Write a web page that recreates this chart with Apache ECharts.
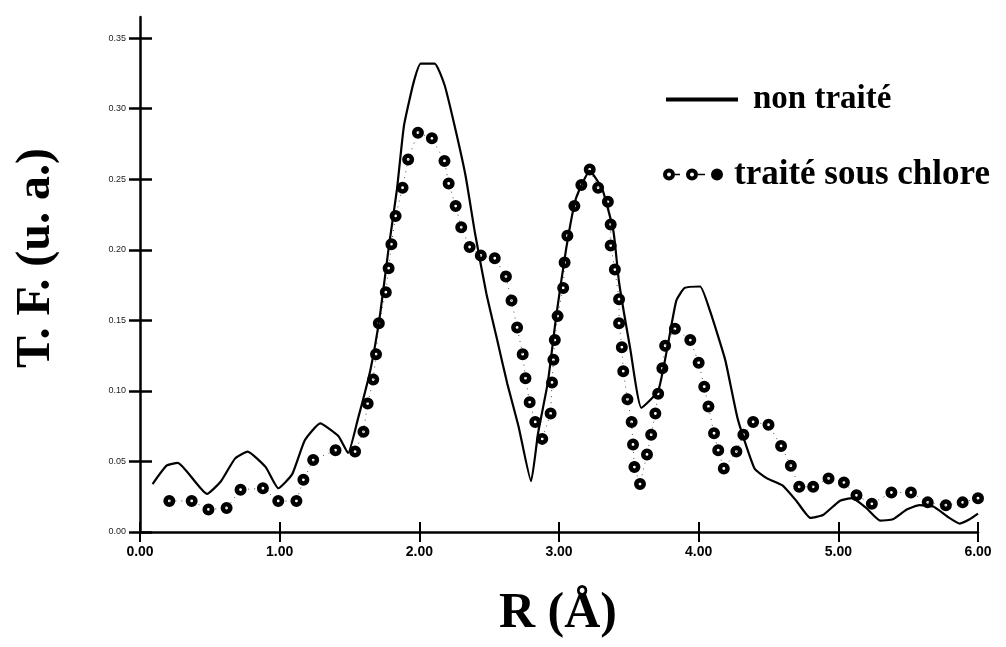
<!DOCTYPE html>
<html>
<head>
<meta charset="utf-8">
<script src="https://cdn.jsdelivr.net/npm/echarts@6/dist/echarts.min.js"></script>
<style>
html,body{margin:0;padding:0;background:#fff;}
#chart{width:1006px;height:647px;}
</style>
</head>
<body>
<div id="chart"></div>
<script>
// R (Å) and T.F. values
const seriesNames = ['non traité', 'traité sous chlore'];
const axisTitles = ['R (Å)', 'T. F. (u. a.)'];
const rUntreated = [0.09,0.19,0.27,0.48,0.58,0.68,0.77,0.90,0.99,1.09,1.18,1.29,1.42,1.49,1.56,1.65,1.72,1.78,1.84,1.89,1.96,2.01,2.11,2.18,2.25,2.33,2.40,2.48,2.56,2.63,2.71,2.80,2.85,2.92,2.98,3.05,3.12,3.22,3.31,3.39,3.43,3.51,3.59,3.71,3.78,3.84,3.90,4.01,4.08,4.19,4.28,4.40,4.49,4.60,4.70,4.80,4.89,5.01,5.10,5.20,5.30,5.39,5.49,5.58,5.68,5.78,5.87,5.94,6.00];
const vUntreated = [0.034,0.047,0.049,0.027,0.036,0.052,0.057,0.046,0.031,0.041,0.065,0.077,0.068,0.056,0.080,0.115,0.155,0.201,0.243,0.288,0.319,0.332,0.332,0.317,0.289,0.253,0.211,0.169,0.135,0.105,0.075,0.036,0.070,0.106,0.153,0.200,0.236,0.256,0.243,0.213,0.177,0.130,0.088,0.100,0.133,0.164,0.173,0.174,0.157,0.122,0.080,0.045,0.038,0.033,0.022,0.010,0.012,0.022,0.024,0.017,0.008,0.009,0.016,0.019,0.018,0.011,0.006,0.009,0.013];
const rTreated = [0.21,0.37,0.49,0.62,0.72,0.88,0.99,1.12,1.17,1.24,1.40,1.54,1.60,1.63,1.67,1.69,1.71,1.76,1.78,1.80,1.83,1.88,1.92,1.99,2.09,2.18,2.21,2.26,2.30,2.36,2.44,2.54,2.62,2.66,2.70,2.74,2.76,2.79,2.83,2.88,2.94,2.95,2.96,2.97,2.99,3.03,3.04,3.06,3.11,3.16,3.22,3.28,3.35,3.37,3.37,3.40,3.43,3.43,3.45,3.46,3.49,3.52,3.53,3.54,3.58,3.63,3.66,3.69,3.71,3.74,3.76,3.83,3.94,4.00,4.04,4.07,4.11,4.14,4.18,4.27,4.32,4.39,4.50,4.59,4.66,4.72,4.82,4.93,5.04,5.13,5.24,5.38,5.52,5.64,5.77,5.89,6.00];
const vTreated = [0.022,0.022,0.016,0.017,0.030,0.031,0.022,0.022,0.037,0.051,0.058,0.057,0.071,0.091,0.108,0.126,0.148,0.170,0.187,0.204,0.224,0.244,0.264,0.283,0.279,0.263,0.247,0.231,0.216,0.202,0.196,0.194,0.181,0.164,0.145,0.126,0.109,0.092,0.078,0.066,0.084,0.106,0.122,0.136,0.153,0.173,0.191,0.210,0.231,0.246,0.257,0.244,0.234,0.218,0.203,0.186,0.165,0.148,0.131,0.114,0.094,0.078,0.062,0.046,0.034,0.055,0.069,0.084,0.098,0.116,0.132,0.144,0.136,0.120,0.103,0.089,0.070,0.058,0.045,0.057,0.069,0.078,0.076,0.061,0.047,0.032,0.032,0.038,0.035,0.026,0.020,0.028,0.028,0.021,0.019,0.021,0.024];
const yTickValues = [0, 0.05, 0.10, 0.15, 0.20, 0.25, 0.30, 0.35];
const xTickValues = [0, 1, 2, 3, 4, 5, 6];

const pairs = (xs, ys) => xs.map((x, i) => [x, ys[i]]);

const X_MIN = 0, X_MAX = 6, Y_MIN = 0, Y_MAX = 0.365;
const serif = '"Liberation Serif", "Times New Roman", serif';

// ring with a small hole (filled path, even winding for the hole)
const ringPath = 'M0,6 A6,6 0 1,1 12,6 A6,6 0 1,1 0,6 Z M4.6,6 A1.4,1.4 0 1,0 7.4,6 A1.4,1.4 0 1,0 4.6,6 Z';
const dotIcon = 'path://' +
  'M0,6 A6,6 0 1,1 12,6 A6,6 0 1,1 0,6 Z M4,6 A2,2 0 1,0 8,6 A2,2 0 1,0 4,6 Z ' +
  'M12,5.2 L17,5.2 L17,6.8 L12,6.8 Z ' +
  'M23,6 A6,6 0 1,1 35,6 A6,6 0 1,1 23,6 Z M27,6 A2,2 0 1,0 31,6 A2,2 0 1,0 27,6 Z ' +
  'M35,5.2 L42,5.2 L42,6.8 L35,6.8 Z ' +
  'M48,6 A6,6 0 1,1 60,6 A6,6 0 1,1 48,6 Z';

const baseX = {
  type: 'value', min: X_MIN, max: X_MAX, interval: 1,
  splitLine: { show: false }
};
const baseY = {
  type: 'value', min: Y_MIN, max: Y_MAX,
  splitLine: { show: false }
};

const chart = echarts.init(document.getElementById('chart'), null, { renderer: 'canvas' });
chart.setOption({
  backgroundColor: '#fff',
  animation: false,
  grid: { left: 140, right: 28, top: 17, bottom: 115, containLabel: false },
  graphic: [
    {
      type: 'text', x: 37, y: 258, rotation: Math.PI / 2, silent: true,
      style: { text: axisTitles[1], font: 'bold 48px ' + serif, fill: '#000', align: 'center', verticalAlign: 'middle' }
    },
    {
      type: 'text', x: 558, y: 614, silent: true,
      style: { text: axisTitles[0], font: 'bold 50px ' + serif, fill: '#000', align: 'center', verticalAlign: 'middle' }
    }
  ],
  legend: [
    {
      data: [seriesNames[0]], left: 666, top: 83, padding: 0,
      icon: 'rect', itemWidth: 72, itemHeight: 4,
      itemStyle: { color: '#000', borderWidth: 0 },
      textStyle: { fontFamily: serif, fontWeight: 'bold', fontSize: 33, color: '#000', padding: [0, 0, 0, 10] }
    },
    {
      data: [seriesNames[1]], left: 663, top: 157, padding: 0,
      icon: dotIcon, itemWidth: 60, itemHeight: 12,
      itemStyle: { color: '#000', borderWidth: 0 },
      textStyle: { fontFamily: serif, fontWeight: 'bold', fontSize: 35, color: '#000', padding: [0, 0, 0, 6] }
    }
  ],
  xAxis: [
    Object.assign({}, baseX, {
      position: 'bottom',
      axisLine: { show: true, onZero: false, lineStyle: { color: '#000', width: 2.5 } },
      axisTick: { show: true, inside: false, length: 10, customValues: xTickValues, lineStyle: { color: '#000', width: 2 } },
      axisLabel: {
        show: true, customValues: xTickValues, margin: 13,
        fontFamily: '"Liberation Sans", Arial, sans-serif', fontWeight: 'bold', fontSize: 14, color: '#000',
        formatter: v => v.toFixed(2)
      }
    }),
    Object.assign({}, baseX, {
      position: 'bottom',
      axisLine: { show: false, onZero: false },
      axisTick: { show: true, inside: true, length: 10, customValues: xTickValues, lineStyle: { color: '#000', width: 2 } },
      axisLabel: { show: false }
    })
  ],
  yAxis: [
    Object.assign({}, baseY, {
      position: 'left',
      axisLine: { show: true, onZero: false, lineStyle: { color: '#000', width: 2.5 } },
      axisTick: { show: true, inside: false, length: 11, customValues: yTickValues, lineStyle: { color: '#000', width: 2.5 } },
      axisLabel: {
        show: true, customValues: yTickValues, margin: 14,
        fontFamily: '"Liberation Sans", Arial, sans-serif', fontSize: 9, color: '#222',
        formatter: v => v.toFixed(2)
      }
    }),
    Object.assign({}, baseY, {
      position: 'left',
      axisLine: { show: false, onZero: false },
      axisTick: { show: true, inside: true, length: 12, customValues: yTickValues, lineStyle: { color: '#000', width: 2.5 } },
      axisLabel: { show: false }
    })
  ],
  series: [
    {
      name: seriesNames[0], type: 'line', xAxisIndex: 0, yAxisIndex: 0,
      data: pairs(rUntreated, vUntreated),
      showSymbol: false, symbol: 'none', smooth: 0.15,
      lineStyle: { color: '#000', width: 2.2 },
      itemStyle: { color: '#000' },
      z: 2
    },
    {
      name: seriesNames[1], type: 'line', xAxisIndex: 0, yAxisIndex: 0,
      data: pairs(rTreated, vTreated),
      symbol: 'path://' + ringPath, symbolSize: 12, showAllSymbol: true,
      itemStyle: { color: '#000', borderWidth: 0 },
      lineStyle: { color: '#000', width: 1, type: [1, 5], opacity: 0.7 },
      z: 3
    }
  ]
});
</script>
</body>
</html>
